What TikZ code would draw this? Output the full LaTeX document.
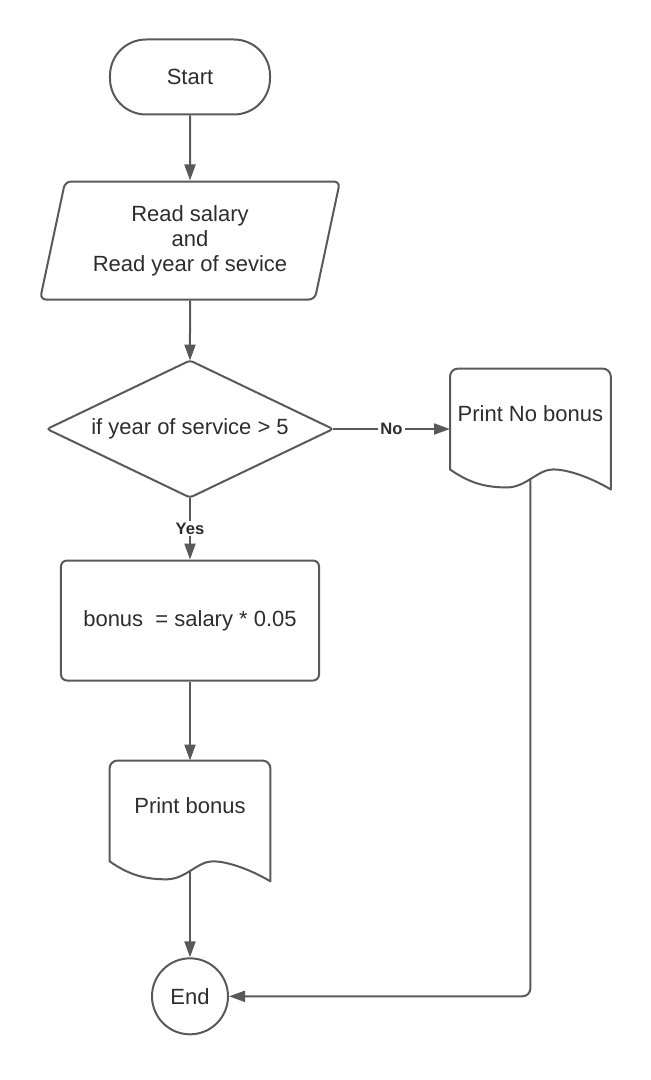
\documentclass[tikz,border=0pt]{standalone}
\usepackage{fontspec}
\setmainfont{Liberation Sans}
\definecolor{lineGray}{RGB}{89, 89, 89}
\definecolor{textGray}{RGB}{45, 45, 45}
\usepackage{tikz}
\usetikzlibrary{positioning, calc, shapes.geometric, arrows.meta}

% outline of a document symbol (flat top, wavy bottom)
\newcommand{\docoutline}[1]{%
  \draw[shapeline, rounded corners=4pt] ([yshift=10pt]#1.south west) -- (#1.north west)
        -- (#1.north east) -- (#1.south east);
  \draw[shapeline] ([yshift=10pt]#1.south west)
        .. controls ([xshift=10pt,yshift=3pt]#1.south west) and ([xshift=18pt,yshift=1pt]#1.south west)
        .. ([xshift=28.5pt,yshift=1pt]#1.south west)
        .. controls ([xshift=38pt,yshift=1pt]#1.south west) and ([xshift=44pt,yshift=10pt]#1.south west)
        .. ([xshift=51.5pt,yshift=10pt]#1.south west)
        .. controls ([xshift=60pt,yshift=10pt]#1.south west) and ([xshift=72pt,yshift=5pt]#1.south west)
        .. (#1.south east);
}

\begin{document}
\begin{tikzpicture}[
    font=\fontsize{11pt}{12.5pt}\selectfont,
    text=textGray,
    shapeline/.style={draw=lineGray, line width=1pt, line cap=round},
    startbox/.style={rectangle, shapeline, rounded corners=18pt, minimum width=80pt,
                     minimum height=37.5pt},
    readbox/.style={trapezium, trapezium left angle=76, trapezium right angle=104,
                    trapezium stretches=true, shapeline, rounded corners=3pt,
                    minimum width=150pt, minimum height=59pt, align=center},
    decbox/.style={diamond, aspect=2.1, shapeline, rounded corners=1.5pt, inner sep=0pt,
                   outer sep=0pt, minimum width=143pt, minimum height=68.5pt},
    procbox/.style={rectangle, shapeline, rounded corners=3pt, minimum width=129pt,
                    minimum height=60pt},
    docbox/.style={rectangle, minimum width=80pt, minimum height=60pt, text depth=15pt},
    stopbox/.style={circle, shapeline, minimum size=38pt, inner sep=0pt},
    arrow/.style={draw=lineGray, line width=1pt, -{Triangle[length=8pt, width=5.5pt]}},
    lbl/.style={fill=white, inner sep=1pt, font=\fontsize{8.3pt}{10pt}\selectfont\bfseries},
  ]
    \useasboundingbox (-95pt,-501.5pt) rectangle (230pt,38.5pt);

    \node[startbox] (start) {Start};
    \node[readbox, below=32.5pt of start] (read) {Read salary\\and\\Read year of sevice};
    \node[decbox, below=30pt of read] (dia) {if year of service > 5};
    \node[procbox, below=31pt of dia] (bonus) {bonus~ = salary * 0.05};
    \node[docbox, below=39.5pt of bonus] (printbonus) {Print bonus};
    \node[stopbox, below=38pt of printbonus] (stop) {End};
    \node[docbox, right=58.5pt of dia] (printnobonus) {Print No bonus};
    \docoutline{printbonus}
    \docoutline{printnobonus}

    \draw[arrow] (start) -- (read);
    \draw[arrow] (read) -- (dia);
    \draw[arrow] (dia) -- node[lbl] {Yes} (bonus);
    \draw[arrow] (dia) -- node[lbl] {No} (printnobonus);
    \draw[arrow] (bonus) -- (printbonus);
    \draw[arrow] ([yshift=5.5pt]printbonus.south) -- (stop);
    \draw[arrow, rounded corners=4pt] ([yshift=5.5pt]printnobonus.south) |- (stop);
  \end{tikzpicture}
\end{document}
